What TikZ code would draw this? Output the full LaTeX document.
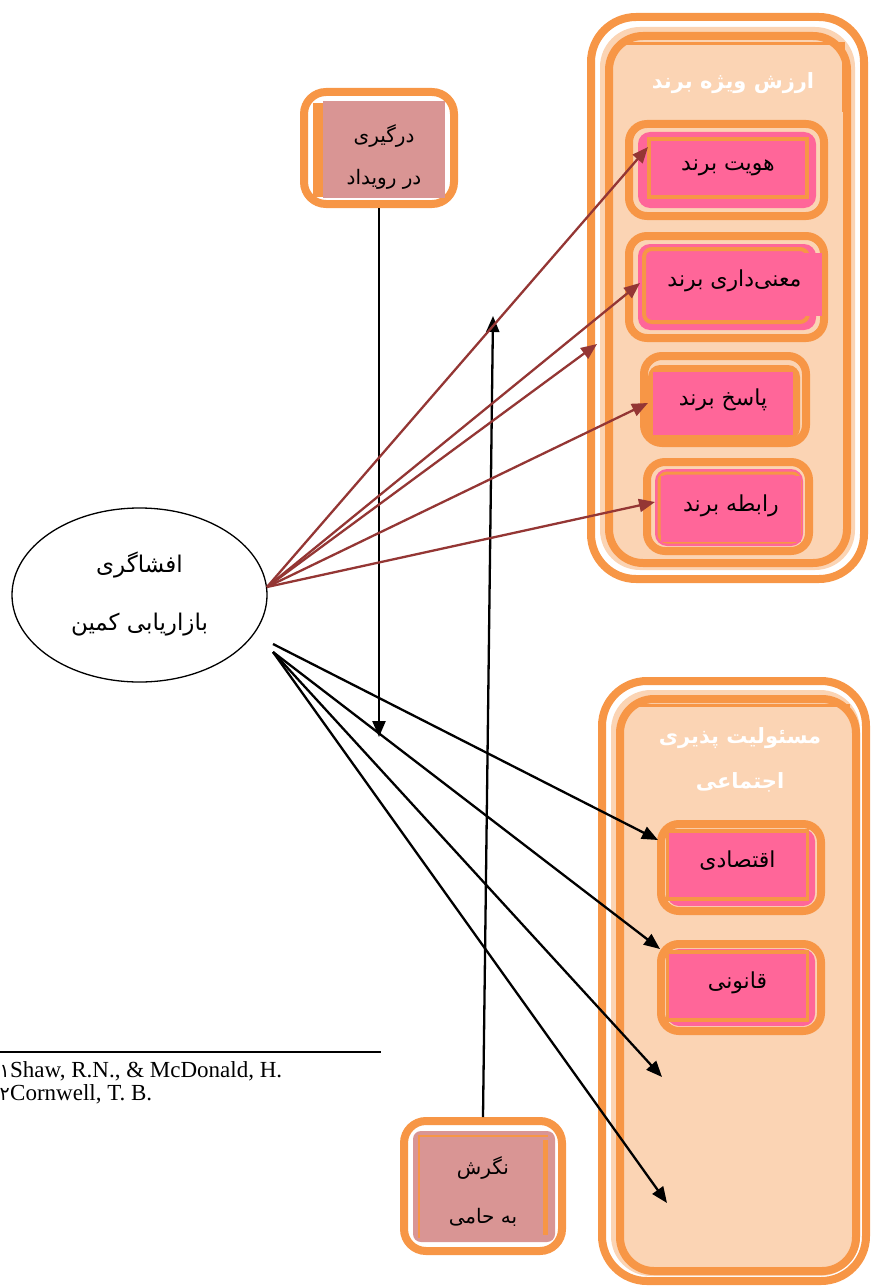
\documentclass[tikz,border=0pt]{standalone}
\usepackage{fontspec}
\setmainfont{Liberation Serif}
\newfontfamily\fa[Script=Arabic]{DejaVu Sans}
\TeXXeTstate=1
\usetikzlibrary{arrows.meta,shapes.geometric}
\definecolor{orng}{HTML}{F79646}
\definecolor{peach}{HTML}{FBD4B4}
\definecolor{pinkf}{HTML}{FF6699}
\definecolor{rose}{HTML}{D99594}
\definecolor{redb}{HTML}{943634}
\newcommand{\mystrut}{\rule[-0.3em]{0pt}{1em}}
\tikzset{
  ringbox/.style={draw=orng, line width=8pt, rounded corners=18pt, fill=peach, inner sep=0pt},
  smallring/.style={draw=orng, line width=8pt, rounded corners=22pt, fill=white, inner sep=0pt},
  innerpink/.style={fill=pinkf, rounded corners=12pt},
  innerorng/.style={fill=orng, rounded corners=12pt},
  pinkbox/.style={fill=pinkf, draw=orng, line width=3.5pt, inner sep=0pt, text height=0.7em, text depth=0.3em, font=\fa\fontsize{22}{26}\selectfont},
  pinkplain/.style={fill=pinkf, inner sep=0pt, text height=0.7em, text depth=0.3em, font=\fa\fontsize{22}{26}\selectfont},
  rosetext/.style={inner sep=0pt, align=center},
  titletext/.style={text=white, align=center, inner sep=0pt},
  redarrow/.style={draw=redb, line width=2.3pt, -{Triangle[length=16pt,width=13pt]}},
  blackarrow/.style={draw=black, line width=2.3pt, -{Triangle[length=16pt,width=13pt]}},
  refline/.style={font=\fontsize{23}{23}\selectfont, inner sep=0pt, anchor=base west},
}
\begin{document}
\begin{tikzpicture}[x=1pt,y=-1pt]
\useasboundingbox (0,0) rectangle (872,1287);

% ===== top container =====
\draw[draw=orng, line width=8pt, fill=white, rounded corners=45pt] (591,17) rectangle (864,579);
\fill[peach, rounded corners=40pt] (600,27) rectangle (855,570);
\draw[draw=orng, line width=8pt, fill=peach, rounded corners=34pt] (609,36) rectangle (847,563);
\draw[orng, line width=3pt] (621,44) -- (843,44) -- (843,112);
\node[titletext, font=\fa\bfseries\fontsize{21}{45}\selectfont] (t1) at (733,84) {\beginR\mystrut ارزش ویژه برند\endR};

% sub boxes
\node[ringbox, minimum width=195pt, minimum height=92pt] (hovring) at (726.5,170) {};
\fill[innerpink] (638,132) rectangle (816,208);
\node[pinkbox, minimum width=158pt, minimum height=58pt] (hov) at (728,168) {\beginR هویت برند\endR};

\node[ringbox, minimum width=195pt, minimum height=102pt] (manring) at (726.5,287) {};
\fill[innerpink] (638,244) rectangle (816,330);
\draw[draw=orng, line width=4pt, fill=pinkf, rounded corners=8pt] (644,249) rectangle (808,322);
\node[pinkplain, minimum width=175pt, minimum height=63pt] (man) at (734.5,284.5) {\beginR معنی‌داری برند\endR};

\node[ringbox, minimum width=162pt, minimum height=87pt] (pasring) at (725,399.5) {};
\fill[innerorng] (648,365) rectangle (800,440);
\node[pinkplain, minimum width=140pt, minimum height=63pt] (pas) at (723,403.5) {\beginR پاسخ برند\endR};

\node[ringbox, minimum width=162pt, minimum height=89pt] (rabring) at (728,506.5) {};
\fill[innerpink] (655,469) rectangle (803,546);
\draw[draw=orng, line width=3pt, fill=pinkf, rounded corners=8pt] (659,473) rectangle (800,542);
\node[pinkplain, minimum width=140pt, minimum height=66pt] (rab) at (731,509) {\beginR رابطه برند\endR};

% ===== bottom container =====
\draw[draw=orng, line width=8pt, fill=white, rounded corners=45pt] (602,681) rectangle (866,1281);
\fill[peach, rounded corners=40pt] (611,690) rectangle (860,1276);
\draw[draw=orng, line width=8pt, fill=peach, rounded corners=34pt] (620,699) rectangle (856,1271);
\draw[orng, line width=3pt] (630,705) -- (850,705);
\node[titletext, font=\fa\bfseries\fontsize{21}{45}\selectfont] (t2) at (740,761) {\beginR\mystrut مسئولیت پذیری\endR\\\beginR\mystrut اجتماعی\endR};

\node[ringbox, minimum width=160pt, minimum height=87pt] (ecoring) at (741,867.5) {};
\fill[innerpink] (667,829) rectangle (815,906);
\node[pinkbox, minimum width=140pt, minimum height=68pt] (eco) at (737.5,865) {\beginR اقتصادی\endR};

\node[ringbox, minimum width=160pt, minimum height=87pt] (lawring) at (741,987.5) {};
\fill[innerpink] (667,949) rectangle (815,1026);
\node[pinkbox, minimum width=140pt, minimum height=68pt] (law) at (737.5,986) {\beginR قانونی\endR};

% ===== small boxes =====
\node[smallring, minimum width=150pt, minimum height=112pt] (darring) at (379,148) {};
\fill[orng] (313,103) rectangle (330,197);
\fill[rose] (323,101) rectangle (445,198);
\node[rosetext, font=\fa\fontsize{20}{42}\selectfont] (dar) at (384,158) {\beginR\mystrut درگیری\endR\\\beginR\mystrut در رویداد\endR};

\node[smallring, minimum width=158pt, minimum height=130pt] (nagring) at (483,1186) {};
\fill[rose, rounded corners=8pt] (413,1131) rectangle (555,1242);
\draw[orng, line width=2.5pt] (419,1238) -- (419,1136) -- (548,1136);
\fill[orng] (543,1140) rectangle (548,1235);
\node[rosetext, font=\fa\fontsize{20}{49}\selectfont] (nag) at (483,1193) {\beginR\mystrut نگرش\endR\\\beginR\mystrut به حامی\endR};

% ===== ellipse =====
\node[draw, ellipse, line width=1.3pt, minimum width=255pt, minimum height=174pt, inner sep=0pt, align=center,
      font=\fa\fontsize{23}{58}\selectfont] (ell) at (139.5,595) {\beginR\mystrut افشاگری\endR\\\beginR\mystrut بازاریابی کمین\endR};

% ===== coordinates =====
\coordinate (rs) at (267,587);
\coordinate (bsA) at (273,644);
\coordinate (bsB) at (273,652);
\coordinate (tHov) at (648,147);
\coordinate (tMan) at (640,283);
\coordinate (tEdge) at (597,344);
\coordinate (tPas) at (648,403);
\coordinate (tRab) at (655,502);
\coordinate (tEco) at (658,840);
\coordinate (tLaw) at (660,949);
\coordinate (tE1) at (662,1077);
\coordinate (tE2) at (667,1203);
\coordinate (vDown) at (379,737);
\coordinate (vUp) at (493,316);

% ===== connectors =====
\draw[blackarrow] (darring.south) -- (vDown);
\draw[blackarrow] (nagring.north) -- (vUp);
\draw[redarrow] (rs) -- (tHov);
\draw[redarrow] (rs) -- (tMan);
\draw[redarrow] (rs) -- (tEdge);
\draw[redarrow] (rs) -- (tPas);
\draw[redarrow] (rs) -- (tRab);
\draw[blackarrow] (bsA) -- (tEco);
\draw[blackarrow] (bsB) -- (tLaw);
\draw[blackarrow] (bsB) -- (tE1);
\draw[blackarrow] (bsB) -- (tE2);

% ===== footnotes =====
\draw[line width=1.5pt] (0,1052) -- (381,1052);
\node[refline] (r1) at (10,1077) {Shaw, R.N., \& McDonald, H.};
\node[refline] (r2) at (10,1100) {Cornwell, T. B.};
\node[inner sep=0pt, anchor=base east, font=\fa\fontsize{19}{19}\selectfont] (n1) at (r1.base west) {۱};
\node[inner sep=0pt, anchor=base east, font=\fa\fontsize{19}{19}\selectfont] (n2) at (r2.base west) {۲};
\end{tikzpicture}
\end{document}
